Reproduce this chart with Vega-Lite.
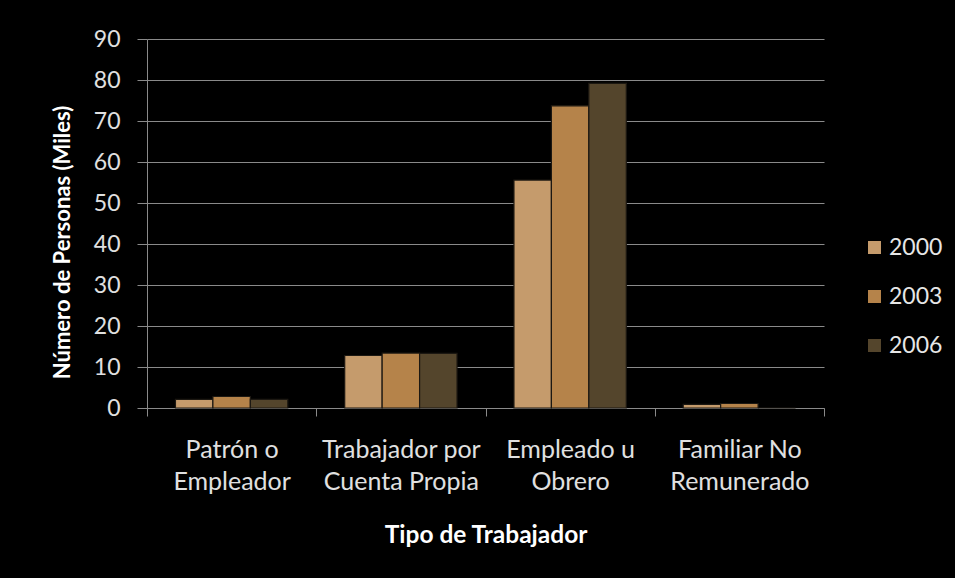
{
  "$schema": "https://vega.github.io/schema/vega-lite/v6.json",
  "autosize": {"type": "none"},
  "padding": {"left": 147, "top": 39, "right": 131, "bottom": 170},
  "width": 677,
  "height": 369,
  "background": "#000000",
  "config": {"view": {"stroke": null}, "font": "Lato"},
  "data": {
    "values": [
      {"tipo": "Patrón o\nEmpleador", "anio": "2000", "valor": 2.1},
      {"tipo": "Patrón o\nEmpleador", "anio": "2003", "valor": 2.8},
      {"tipo": "Patrón o\nEmpleador", "anio": "2006", "valor": 2.1},
      {"tipo": "Trabajador por\nCuenta Propia", "anio": "2000", "valor": 12.8},
      {"tipo": "Trabajador por\nCuenta Propia", "anio": "2003", "valor": 13.4},
      {"tipo": "Trabajador por\nCuenta Propia", "anio": "2006", "valor": 13.3},
      {"tipo": "Empleado u\nObrero", "anio": "2000", "valor": 55.6},
      {"tipo": "Empleado u\nObrero", "anio": "2003", "valor": 73.7},
      {"tipo": "Empleado u\nObrero", "anio": "2006", "valor": 79.2},
      {"tipo": "Familiar No\nRemunerado", "anio": "2000", "valor": 0.9},
      {"tipo": "Familiar No\nRemunerado", "anio": "2003", "valor": 1.1},
      {"tipo": "Familiar No\nRemunerado", "anio": "2006", "valor": 0}
    ]
  },
  "mark": {"type": "bar", "stroke": "#1c1812", "strokeWidth": 1.2},
  "encoding": {
    "x": {
      "field": "tipo",
      "type": "nominal",
      "sort": null,
      "scale": {"paddingInner": 0, "paddingOuter": 0},
      "axis": {
        "title": "Tipo de Trabajador",
        "labelExpr": "isValid(datum.value) ? split(datum.value, '\\n') : ''",
        "labelAngle": 0,
        "tickBand": "extent",
        "domainColor": "#8a8a8a",
        "tickColor": "#8a8a8a",
        "tickSize": 8,
        "labelColor": "#e0e0e0",
        "labelFontSize": 25,
        "labelLineHeight": 32,
        "labelPadding": 21,
        "titleColor": "#ffffff",
        "titleFontSize": 24.5,
        "titleFontWeight": "bold",
        "titleX": 338.5,
        "titleY": 127,
        "titleBaseline": "middle",
        "titleAlign": "center"
      }
    },
    "xOffset": {
      "field": "anio",
      "type": "nominal",
      "scale": {"paddingInner": 0, "paddingOuter": 0.76}
    },
    "y": {
      "field": "valor",
      "type": "quantitative",
      "scale": {"domain": [0, 90]},
      "axis": {
        "values": [0, 10, 20, 30, 40, 50, 60, 70, 80, 90],
        "title": "Número de Personas (Miles)",
        "grid": true,
        "gridColor": "#8a8a8a",
        "gridWidth": 1,
        "domainColor": "#8a8a8a",
        "tickColor": "#8a8a8a",
        "tickSize": 10,
        "labelPadding": 17,
        "labelColor": "#e0e0e0",
        "labelFontSize": 23,
        "titleColor": "#ffffff",
        "titleFontSize": 22,
        "titleFontWeight": "bold",
        "titleX": -85,
        "titleY": 203,
        "titleAngle": -90,
        "titleBaseline": "middle",
        "titleAlign": "center"
      }
    },
    "color": {
      "field": "anio",
      "type": "nominal",
      "scale": {"domain": ["2000", "2003", "2006"], "range": ["#C59B6C", "#B5834A", "#54452C"]},
      "legend": {
        "title": null,
        "orient": "none",
        "legendX": 716,
        "legendY": 197,
        "padding": 0,
        "symbolType": "square",
        "symbolSize": 169,
        "symbolStrokeWidth": 0,
        "labelColor": "#e6e6e6",
        "labelFontSize": 23,
        "labelOffset": 3,
        "rowPadding": 25
      }
    }
  }
}
